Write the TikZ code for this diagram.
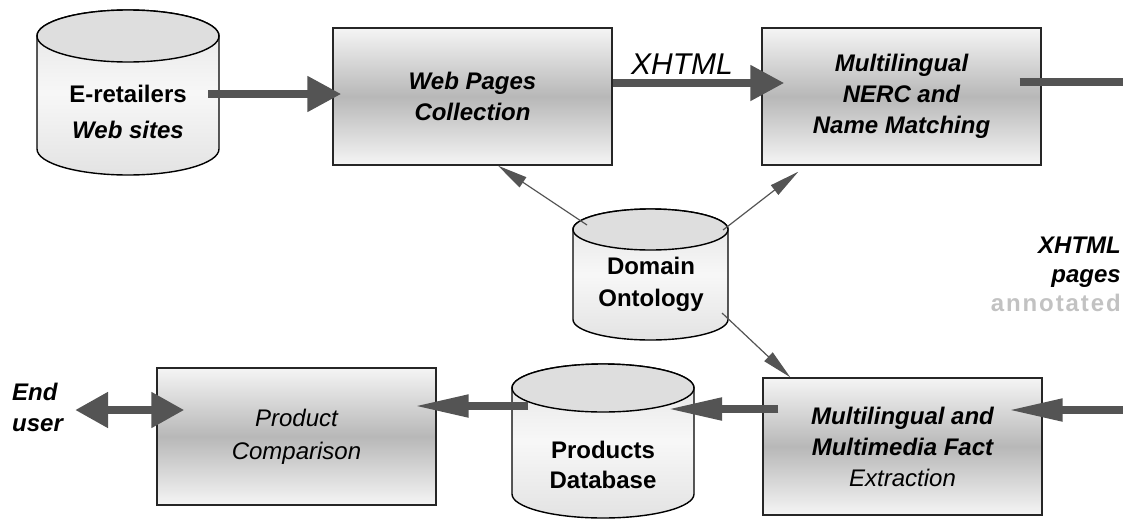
\documentclass[tikz,border=0pt]{standalone}
\usepackage{fontspec}
\setmainfont{Liberation Sans}
\usetikzlibrary{arrows.meta,calc}
\definecolor{arr}{gray}{0.33}
\definecolor{boxedge}{gray}{0.96}
\definecolor{boxmid}{gray}{0.72}
\definecolor{cyltopc}{gray}{0.87}
\definecolor{cylA}{gray}{0.89}
\definecolor{cylB}{gray}{0.97}
\definecolor{annot}{gray}{0.76}
\newcommand\drawcyl[5]{% cx, top, bottom, rx, ry
  \path[cylbody] (#1-#4,-#2-#5) -- (#1-#4,-#3+#5)
     arc[start angle=180,end angle=360,x radius=#4pt,y radius=#5pt]
     -- (#1+#4,-#2-#5)
     arc[start angle=0,end angle=180,x radius=#4pt,y radius=#5pt] -- cycle;
  \path[cyltop] (#1,-#2-#5) ellipse[x radius=#4pt,y radius=#5pt];
}
\begin{document}
\begin{tikzpicture}[x=1pt,y=1pt,
  procbox/.style={draw=black!85, line width=1.4pt, minimum width=279pt, minimum height=137pt,
    top color=boxedge, bottom color=boxedge, middle color=boxmid, align=center,
    font=\fontsize{24}{31}\selectfont\bfseries\itshape},
  cylbody/.style={draw=black, line width=1.4pt, top color=cylA, bottom color=cylA, middle color=cylB},
  cyltop/.style={draw=black, line width=1.4pt, fill=cyltopc},
  cyltext/.style={align=center, font=\bfseries\fontsize{24}{32}\selectfont},
  bigarrow/.style={draw=arr, line width=8pt, -{Triangle[length=34pt,width=34pt]}},
  bigline/.style={draw=arr, line width=8pt},
  narrow/.style={draw=arr, line width=8pt, -{Triangle[length=55pt,width=21pt]}},
  dbl/.style={draw=arr, line width=8pt, {Triangle[length=33pt,width=34pt]}-{Triangle[length=33pt,width=34pt]}},
  thinarrow/.style={draw=arr, line width=1.2pt, -{Triangle[length=30pt,width=12pt]}},
  ]
\useasboundingbox (0,0) rectangle (1123,-520);

% process boxes
\node[procbox] (wpc) at (472.5,-96.5) {Web Pages\\Collection};
\node[procbox] (nerc) at (901.5,-96.5) {Multilingual\\NERC and\\Name Matching};
\node[procbox] (fe) at (902.5,-446.5) {Multilingual and\\Multimedia Fact\\\mdseries Extraction};
\node[procbox, font=\fontsize{24}{33}\selectfont\itshape] (pc) at (296.5,-436.5) {Product\\Comparison};

% cylinders
\drawcyl{128}{10}{175}{91}{26}
\drawcyl{650.5}{209}{340}{77.5}{20.5}
\drawcyl{603}{364}{518}{91}{24}
\node[cyltext, font=\bfseries\fontsize{24}{36}\selectfont] (er) at (128,-112) {E-retailers\\\itshape Web sites};
\node[cyltext] (do) at (651,-284) {Domain\\Ontology};
\node[cyltext, font=\bfseries\fontsize{24}{30}\selectfont] (pd) at (603,-465) {Products\\Database};

% free texts
\node[anchor=west, align=left, inner sep=0pt, font=\fontsize{24}{31}\selectfont\bfseries\itshape] (eu) at (12,-407) {End\\user};
\node[font=\fontsize{30}{32}\selectfont\itshape] (xl) at (682,-64) {XHTML};
\node[anchor=east, align=right, inner sep=0pt, font=\fontsize{24}{29}\selectfont\bfseries\itshape] (xpa) at (1121,-274)
  {XHTML\\pages\\{\upshape\color{annot}\addfontfeatures{LetterSpace=8}annotated}};

% connectors
\coordinate (outA) at (1123,-82);
\coordinate (inB) at (1123,-410);
\draw[bigarrow] ($(er)+(80,18)$) -- ($(wpc.west)+(9,2.5)$);
\draw[bigarrow] ($(wpc.east)+(0,13.5)$) -- ($(nerc.west)+(23,13.5)$);
\draw[bigline] ($(nerc.east)+(-22,14.5)$) -- (outA);
\draw[narrow] (inB) -- ($(fe.east)+(-35,36.5)$);
\draw[narrow] ($(fe.west)+(16,37.5)$) -- ($(pd)+(64,56)$);
\draw[narrow] ($(pd)+(-75,59)$) -- ($(pc.east)+(-23,30.5)$);
\draw[dbl] ($(eu.east)+(12,-3)$) -- ($(pc.west)+(28,26.5)$);
\draw[thinarrow] ($(do)+(-64,59)$) -- ($(wpc.south)+(25.5,0)$);
\draw[thinarrow] ($(do)+(72,54)$) -- ($(nerc.south west)+(37,-6)$);
\draw[thinarrow] ($(do)+(71,-29)$) -- ($(fe.north west)+(28,0)$);
\end{tikzpicture}
\end{document}
